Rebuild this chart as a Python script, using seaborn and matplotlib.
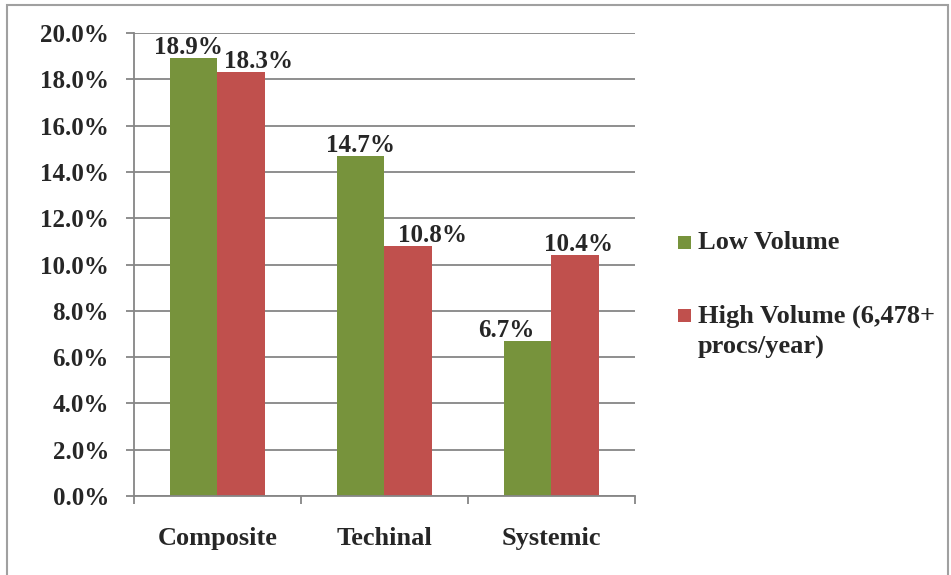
import matplotlib
matplotlib.use("Agg")
import matplotlib.pyplot as plt
import matplotlib.patches as mpatches
from matplotlib.ticker import MultipleLocator, FixedLocator
import pandas as pd
import seaborn as sns

# Complication rates by category and hospital volume
categories = ["Composite", "Techinal", "Systemic"]
series_names = ["Low Volume", "High Volume (6,478+\nprocs/year)"]
low_volume = [18.9, 14.7, 6.7]
high_volume = [18.3, 10.8, 10.4]
colors = ["#77933C", "#C0504D"]

df = pd.DataFrame({
    "category": categories * 2,
    "series": [series_names[0]] * 3 + [series_names[1]] * 3,
    "rate": low_volume + high_volume,
})

sns.set_theme(style="white")
plt.rcParams["font.family"] = ["Liberation Serif", "DejaVu Serif"]
plt.rcParams["font.weight"] = "bold"

FS_NUM = 18
FS_TXT = 19
fig = plt.figure(figsize=(9.51, 5.75), dpi=100)
ax = fig.add_axes([0.1409, 0.1374, 0.5268, 0.8052])

sns.barplot(data=df, x="category", y="rate", hue="series", order=categories,
            hue_order=series_names, palette=colors, width=0.57, gap=0,
            saturation=1, ax=ax, legend=False, edgecolor="none")

ax.set_xlim(-0.5, 2.5)
ax.set_ylim(0, 20)
ax.yaxis.set_major_locator(MultipleLocator(2))
ax.set_yticklabels([f"{v:.1f}%" for v in ax.get_yticks()])
ax.grid(axis="y", color="#868686", linewidth=1.3)
ax.set_axisbelow(True)
ax.set_xlabel("")
ax.set_ylabel("")

for s in ["top", "right"]:
    ax.spines[s].set_visible(False)
for s in ["left", "bottom"]:
    ax.spines[s].set_color("#868686")
    ax.spines[s].set_linewidth(1.3)

# category labels centred, tick marks at the group boundaries
ax.set_xticks(range(len(categories)))
ax.set_xticklabels(categories)
ax.xaxis.set_minor_locator(FixedLocator([-0.5, 0.5, 1.5, 2.5]))
ax.tick_params(axis="x", which="major", length=0, pad=22, labelsize=FS_TXT)
ax.tick_params(axis="x", which="minor", length=6, width=1.3, color="#868686",
               bottom=True)
ax.tick_params(axis="y", length=6, width=1.3, color="#868686", left=True,
               pad=12, labelsize=FS_NUM)
for lab in ax.get_xticklabels() + ax.get_yticklabels():
    lab.set_fontweight("bold")

# value labels above bars, nudged sideways so neighbouring labels don't collide
label_shift_px = [[-5, 0, -21], [17, 24, 3]]
for cont, shifts in zip(ax.containers, label_shift_px):
    for bar, dx in zip(cont, shifts):
        h = bar.get_height()
        ax.annotate(f"{h:.1f}%", (bar.get_x() + bar.get_width() / 2, h),
                    xytext=(dx * 0.72, 3), textcoords="offset points",
                    ha="center", va="baseline", fontsize=FS_NUM,
                    fontweight="bold")

# legend: coloured squares with labels to the right of the plot
W, H = 951, 575
legend_rows = [(242, 249), (315, 323)]  # (square centre y, text baseline y) in px from top
for (cy, base), name, col in zip(legend_rows, series_names, colors):
    fig.add_artist(mpatches.Rectangle((678 / W, 1 - (cy + 6.5) / H), 13 / W, 13 / H,
                                      transform=fig.transFigure, facecolor=col,
                                      edgecolor="none"))
    lines = name.split("\n")
    for i, line in enumerate(lines):
        fig.text(698 / W, 1 - (base + 31 * i) / H, line, fontsize=FS_TXT,
                 fontweight="bold", va="baseline", ha="left")

# outer chart border
fig.add_artist(mpatches.Rectangle((7 / W, -0.05), 941 / W, 1.05 - 5 / H,
                                  transform=fig.transFigure, fill=False,
                                  edgecolor="#A0A0A0", linewidth=1.5))

fig.savefig("out.png", dpi=100)
